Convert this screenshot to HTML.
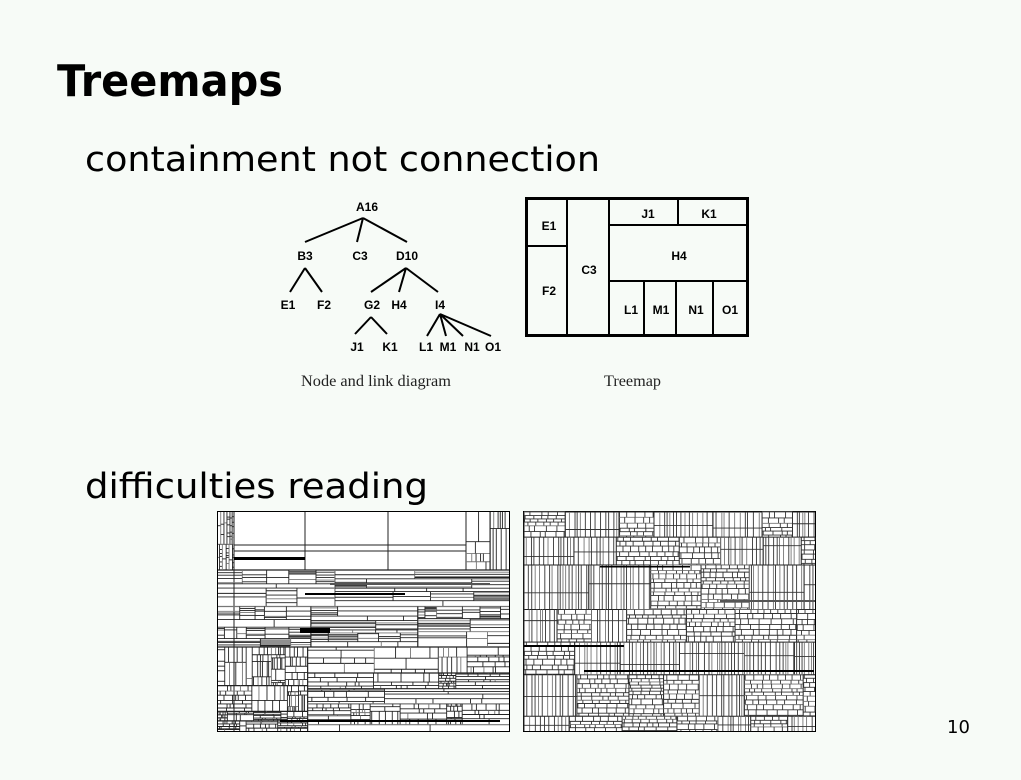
<!DOCTYPE html>
<html><head><meta charset="utf-8"><style>
html,body{margin:0;padding:0;background:#f7fbf7;}
svg{display:block}
</style></head><body>
<svg id="s" width="1021" height="780" xmlns="http://www.w3.org/2000/svg" font-family="'DejaVu Sans','Liberation Sans',sans-serif">
<rect width="1021" height="780" fill="#f7fbf7"/>
<text x="57" y="96" font-size="44" font-weight="bold" textLength="226" lengthAdjust="spacingAndGlyphs">Treemaps</text>
<text x="85" y="171" font-size="35" textLength="515" lengthAdjust="spacingAndGlyphs">containment not connection</text>
<text x="85" y="498" font-size="35" textLength="343" lengthAdjust="spacingAndGlyphs">difficulties reading</text>
<text x="947" y="733" font-size="18">10</text>
<g stroke="#000" stroke-width="2" fill="none">
<path d="M363 218L305 242M363 218L357 242M363 218L407 242"/>
<path d="M305 268L290 292M305 268L322 292"/>
<path d="M406 268L371 292M406 268L399 292M406 268L438 292"/>
<path d="M371 317L355 334M371 317L387 334"/>
<path d="M440 314L427 336M440 314L446 336M440 314L463 336M440 314L491 336"/>
</g>
<g font-family="'Liberation Sans',Arial,sans-serif" font-size="12" font-weight="bold" text-anchor="middle">
<text x="367" y="211">A16</text>
<text x="305" y="260">B3</text><text x="360" y="260">C3</text><text x="407" y="260">D10</text>
<text x="288" y="309">E1</text><text x="324" y="309">F2</text><text x="372" y="309">G2</text><text x="399" y="309">H4</text><text x="440" y="309">I4</text>
<text x="357" y="351">J1</text><text x="390" y="351">K1</text><text x="426" y="351">L1</text><text x="448" y="351">M1</text><text x="472" y="351">N1</text><text x="493" y="351">O1</text>
</g>
<g stroke="#000" fill="none">
<rect x="526.5" y="198.5" width="221" height="137" stroke-width="3"/>
<path stroke-width="2" d="M567 198V336M526 246H567M609 198V336M609 225H748M678 198V225M609 281H748M644 281V336M676 281V336M713 281V336"/>
</g>
<g font-family="'Liberation Sans',Arial,sans-serif" font-size="12" font-weight="bold" text-anchor="middle">
<text x="549" y="230">E1</text><text x="549" y="295">F2</text><text x="589" y="274">C3</text>
<text x="648" y="218">J1</text><text x="709" y="218">K1</text><text x="679" y="260">H4</text>
<text x="631" y="314">L1</text><text x="661" y="314">M1</text><text x="696" y="314">N1</text><text x="730" y="314">O1</text>
</g>
<g font-family="'Liberation Serif',serif" font-size="16" fill="#222">
<text x="301" y="386" textLength="150" lengthAdjust="spacingAndGlyphs">Node and link diagram</text>
<text x="604" y="386" textLength="57" lengthAdjust="spacingAndGlyphs">Treemap</text>
</g>
<rect x="217.5" y="511.5" width="292" height="220" fill="#fff" stroke="#000"/>
<rect x="523.5" y="511.5" width="292" height="220" fill="#fff" stroke="#000"/>
<g id="tm1"></g><g id="tm2"></g>
</svg>
<script>
var seed=7;function r(){seed=(seed*16807)%2147483647;return (seed-1)/2147483646;}
var NS="http://www.w3.org/2000/svg";
var gp=0.15;
function ln(g,x1,y1,x2,y2,c,w){var e=document.createElementNS(NS,"line");e.setAttribute("x1",x1);e.setAttribute("y1",y1);e.setAttribute("x2",x2);e.setAttribute("y2",y2);e.setAttribute("stroke",c);e.setAttribute("stroke-width",w);g.appendChild(e);}
function rc(g,x,y,w,h,c){var e=document.createElementNS(NS,"rect");e.setAttribute("x",x);e.setAttribute("y",y);e.setAttribute("width",w);e.setAttribute("height",h);e.setAttribute("fill",c);g.appendChild(e);}
function tm(g,x,y,w,h,vert,d,minS,maxD){
 if(d>=maxD||(vert?w:h)<minS*2)return;
 var n=2+Math.floor(r()*5);var ws=[],t=0;for(var i=0;i<n;i++){var v=r()+0.2;ws.push(v);t+=v;}
 var p=0;
 for(var i=0;i<n;i++){var f=ws[i]/t;
  var c=r()<gp?"#777":"#222";
  if(vert){var cw=w*f;if(i>0)ln(g,x+p,y,x+p,y+h,c,d<2?1.2:0.9);tm(g,x+p,y,cw,h,!vert,d+1,minS,maxD);p+=cw;}
  else{var ch=h*f;if(i>0)ln(g,x,y+p,x+w,y+p,c,d<2?1.2:0.9);tm(g,x,y+p,w,ch,!vert,d+1,minS,maxD);p+=ch;}
 }}
/* left: structured */
var g1=document.getElementById("tm1");
ln(g1,234,512,234,731,"#222",1);
ln(g1,218,570,509,570,"#222",1.2);
ln(g1,218,647,509,647,"#222",1.2);
ln(g1,305,512,305,570,"#222",1);ln(g1,388,512,388,570,"#222",1);ln(g1,466,512,466,570,"#222",1);
ln(g1,234,545,466,545,"#222",1);ln(g1,234,551,466,551,"#222",1);
seed=3;tm(g1,466,512,43,58,true,1,3,4);
seed=11;tm(g1,218,512,16,58,false,1,3,4);
seed=21;tm(g1,218,570,291,77,false,0,4,5);
seed=31;tm(g1,218,647,291,84,true,0,4,5);
rc(g1,234,557,71,3,"#000");rc(g1,300,628,30,5,"#000");rc(g1,280,720,220,2,"#000");rc(g1,330,583,160,2,"#555");rc(g1,305,593,100,2,"#000");
/* right: dense brick */
var g2=document.getElementById("tm2");
seed=999;
var y=512;
while(y<731){var bh=25+r()*20;if(y+bh>731)bh=731-y;ln(g2,524,y,815,y,"#222",1);
 var x=524;while(x<815){var cw=25+r()*40;if(x+cw>815)cw=815-x;ln(g2,x,y,x,y+bh,"#222",1);
  var vertical=r()<0.5;var yy=y;
  if(vertical){var xx=x;while(xx<x+cw){var s=2+r()*4;ln(g2,xx,y,xx,y+bh,r()<0.35?"#777":"#333",0.9);xx+=s;}
    var hy=y+bh*(0.3+r()*0.4);ln(g2,x,hy,x+cw,hy,"#333",0.9);}
  else{while(yy<y+bh){var rh=3+r()*3;ln(g2,x,yy,x+cw,yy,r()<0.3?"#777":"#333",0.9);
    var xx=x+r()*8;while(xx<x+cw){ln(g2,xx,yy,xx,Math.min(yy+rh,y+bh),"#333",0.9);xx+=5+r()*7;}yy+=rh;}}
  x+=cw;}
 y+=bh;}
rc(g2,584,670,230,2,"#000");rc(g2,524,645,100,2,"#000");rc(g2,600,566,90,1.5,"#000");rc(g2,720,600,95,2,"#555");
</script>
</body></html>
